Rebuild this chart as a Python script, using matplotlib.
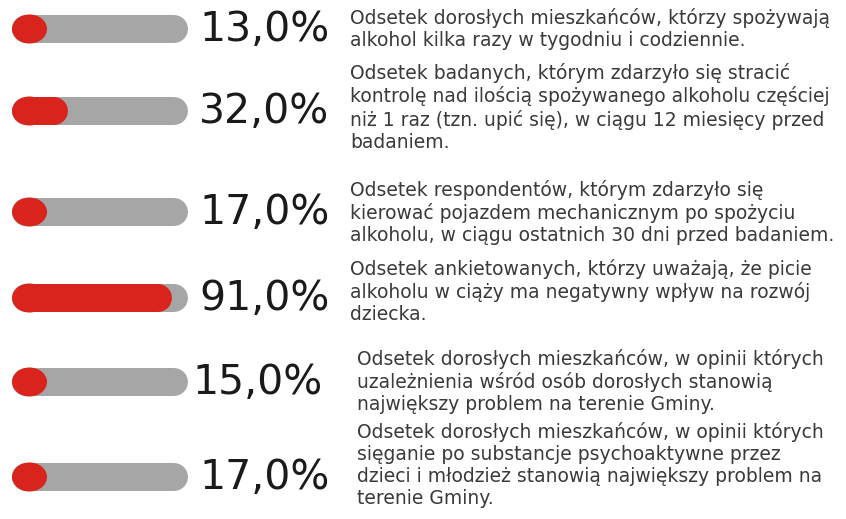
import matplotlib
matplotlib.use('Agg')
import matplotlib.pyplot as plt
from matplotlib.patches import Ellipse

# Dane
wartosci = [13.0, 32.0, 17.0, 91.0, 15.0, 17.0]
etykiety = ['13,0%', '32,0%', '17,0%', '91,0%', '15,0%', '17,0%']
opisy = [
    'Odsetek dorosłych mieszkańców, którzy spożywają\nalkohol kilka razy w tygodniu i codziennie.',
    'Odsetek badanych, którym zdarzyło się stracić\nkontrolę nad ilością spożywanego alkoholu częściej\nniż 1 raz (tzn. upić się), w ciągu 12 miesięcy przed\nbadaniem.',
    'Odsetek respondentów, którym zdarzyło się\nkierować pojazdem mechanicznym po spożyciu\nalkoholu, w ciągu ostatnich 30 dni przed badaniem.',
    'Odsetek ankietowanych, którzy uważają, że picie\nalkoholu w ciąży ma negatywny wpływ na rozwój\ndziecka.',
    'Odsetek dorosłych mieszkańców, w opinii których\nuzależnienia wśród osób dorosłych stanowią\nnajwiększy problem na terenie Gminy.',
    'Odsetek dorosłych mieszkańców, w opinii których\nsięganie po substancje psychoaktywne przez\ndzieci i młodzież stanowią największy problem na\nterenie Gminy.',
]

# Układ (piksele)
W, H = 846, 519
bar_y = [29, 111, 212, 298, 382, 477]
opis_y = [28.5, 107.5, 212.5, 291.5, 381.5, 464.5]
opis_x = [350, 350, 350, 350, 357, 357]
proc_x = [199, 199, 199, 199, 192, 199]
track_x0, track_w = 12, 176
bar_h = 28
dot_w = 35

czerwony = '#d8241c'
szary = '#a6a6a6'

fig = plt.figure(figsize=(W / 100, H / 100), dpi=100)

# Paski w osi 0-100
axb = fig.add_axes([track_x0 / W, 0, track_w / W, 1])
axb.set_xlim(0, 100)
axb.set_ylim(H, 0)
axb.axis('off')
lw = bar_h * 72 / 100
r = bar_h / 2 / track_w * 100
dot = dot_w / track_w * 100
for v, y in zip(wartosci, bar_y):
    axb.plot([r, 100 - r], [y, y], color=szary, lw=lw, solid_capstyle='round', zorder=1)
    axb.add_patch(Ellipse((dot / 2, y), dot, bar_h + 1, color=czerwony, lw=0, zorder=3))
    if v - r > dot / 2:
        axb.plot([dot / 2, v - r], [y, y], color=czerwony, lw=lw, solid_capstyle='round', zorder=3)

# Teksty
axt = fig.add_axes([0, 0, 1, 1])
axt.set_xlim(0, W)
axt.set_ylim(H, 0)
axt.axis('off')
for et, x, y in zip(etykiety, proc_x, bar_y):
    axt.text(x, y + 1, et, fontsize=29.5, color='#1a1a1a', va='center', ha='left',
             family='DejaVu Sans')
for op, x, y in zip(opisy, opis_x, opis_y):
    axt.text(x, y, op, fontsize=13.5, color='#3a3a3a', va='center', ha='left',
             family='DejaVu Sans', linespacing=1.2)

fig.savefig('out.png', dpi=100)
